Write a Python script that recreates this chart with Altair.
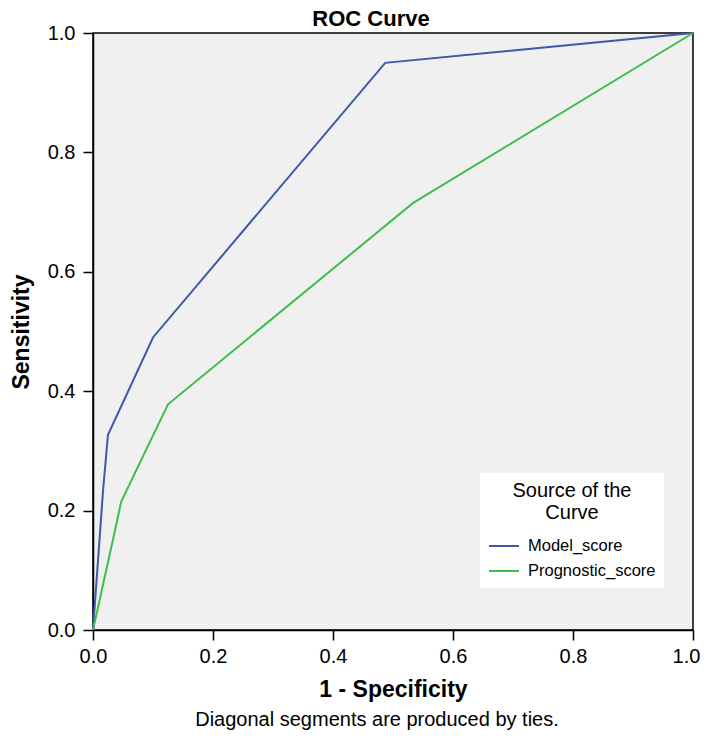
import altair as alt
import pandas as pd

# Data
model_fpr = [0.0, 0.017, 0.025, 0.100, 0.487, 1.0]
model_tpr = [0.0, 0.237, 0.327, 0.490, 0.950, 1.0]
prog_fpr = [0.0, 0.033, 0.047, 0.125, 0.533, 1.0]
prog_tpr = [0.0, 0.150, 0.215, 0.378, 0.715, 1.0]
series = ["Model_score", "Prognostic_score"]
colors = ["#3E58AC", "#3DBE4C"]
ticks = [0.0, 0.2, 0.4, 0.6, 0.8, 1.0]
footnote = "Diagonal segments are produced by ties."

rows = []
for i, (x, y) in enumerate(zip(model_fpr, model_tpr)):
    rows.append({"fpr": x, "tpr": y, "src": series[0], "o": i})
for i, (x, y) in enumerate(zip(prog_fpr, prog_tpr)):
    rows.append({"fpr": x, "tpr": y, "src": series[1], "o": i})
df = pd.DataFrame(rows)

FONT = "Liberation Sans"

lines = alt.Chart(df).mark_line(strokeWidth=2, clip=False).encode(
    x=alt.X("fpr:Q", scale=alt.Scale(domain=[0, 1], nice=False),
            axis=alt.Axis(values=ticks, format=".1f", title="1 - Specificity",
                          grid=False, domain=True, ticks=True, tickSize=10,
                          labelPadding=6, titlePadding=12, labelFlush=False,
                          labelOffset={"condition": {"test": "datum.value >= 1", "value": -7},
                                       "value": 0})),
    y=alt.Y("tpr:Q", scale=alt.Scale(domain=[0, 1], nice=False),
            axis=alt.Axis(values=ticks, format=".1f", title="Sensitivity",
                          grid=False, domain=True, ticks=True, tickSize=10,
                          labelPadding=8, titlePadding=14, labelFlush=False)),
    color=alt.Color("src:N", scale=alt.Scale(domain=series, range=colors),
                    legend=alt.Legend(title=["Source of the", "Curve"],
                                      orient="none", legendX=387, legendY=440,
                                      fillColor="white", padding=8,
                                      titleAnchor="middle", titleAlign="center",
                                      titleFontSize=20, titleFontWeight="normal",
                                      titleLineHeight=22,
                                      titleFont=FONT, titleColor="black",
                                      labelFont=FONT, labelFontSize=16.5, labelColor="black",
                                      symbolType="stroke", symbolSize=900,
                                      symbolStrokeWidth=2, rowPadding=-11,
                                      titlePadding=7, labelOffset=8)),
    order="o:Q",
)

note = alt.Chart(pd.DataFrame({"t": [footnote]})).mark_text(
    font=FONT, fontSize=20, color="black", align="center", baseline="middle"
).encode(text="t:N", x=alt.value(284), y=alt.value(687))

chart = alt.layer(lines, note).properties(
    width=600, height=597,
    title=alt.TitleParams("ROC Curve", font=FONT, fontSize=22, fontWeight="bold",
                          color="black", anchor="middle", offset=-8, dx=-22),
    autosize=alt.AutoSizeParams(type="none"),
    padding={"left": 85, "top": 25, "right": 8, "bottom": 100},
).configure_view(
    fill="#F0F0F0", stroke="black", strokeWidth=1.5
).configure_axis(
    labelFont=FONT, labelFontSize=20, labelColor="black",
    titleFont=FONT, titleFontSize=23, titleFontWeight="bold", titleColor="black",
    domainColor="black", tickColor="black", domainWidth=1.5, tickWidth=1.5
)

chart.save("out.html", embed_options={"renderer": "svg", "actions": False})
